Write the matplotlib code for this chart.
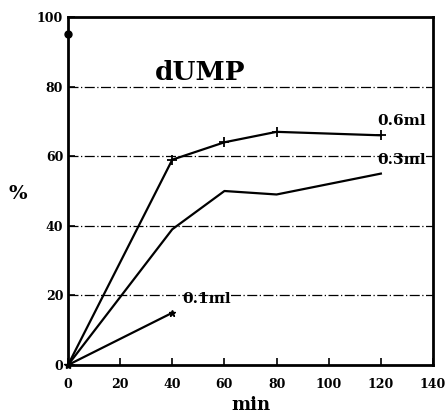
import matplotlib
matplotlib.use('Agg')
import matplotlib.pyplot as plt

matplotlib.rc('font', family='DejaVu Serif', weight='bold', size=10)
matplotlib.rc('axes', labelweight='bold')

t_06 = [0, 40, 60, 80, 120]
y_06 = [0, 59, 64, 67, 66]
t_03 = [0, 40, 60, 80, 120]
y_03 = [0, 39, 50, 49, 55]
t_01 = [0, 40]
y_01 = [0, 15]
dot_t = [0]
dot_y = [95]

fig = plt.figure(figsize=(4.45, 4.16), dpi=100)
ax = fig.add_axes([68/445, 51/416, 365/445, 348/416])

for yg in [20, 40, 60, 80]:
    ax.axhline(yg, color='black', lw=0.9, ls=(0, (8, 2, 1, 2)), zorder=1)

ax.plot(t_06, y_06, color='black', lw=1.6, marker='+', ms=7, mew=1.3)
ax.plot(t_03, y_03, color='black', lw=1.6)
ax.plot(t_01, y_01, color='black', lw=1.6, marker='*', ms=5, markevery=[1])
ax.plot(dot_t, dot_y, 'o', color='black', ms=5, clip_on=False)
ax.plot([0], [0], '*', color='black', ms=6, clip_on=False)

ax.text(118.5, 70, '0.6ml', fontsize=11, va='center', clip_on=False)
ax.text(118.5, 59, '0.3ml', fontsize=11, va='center', clip_on=False)
ax.text(44, 19, '0.1ml', fontsize=11, va='center')
ax.text(33.5, 84, 'dUMP', fontsize=19, va='center')

ax.set_xlim(0, 140)
ax.set_ylim(0, 100)
ax.set_xticks(range(0, 141, 20))
ax.set_yticks(range(0, 101, 20))
ax.tick_params(direction='in', length=5, width=1.2, labelsize=9)
ax.tick_params(axis='x', pad=9)
for s in ax.spines.values():
    s.set_linewidth(2)
ax.set_xlabel('min', fontsize=13, labelpad=4)
ax.set_ylabel('%', fontsize=14, rotation=0, va='center', ha='center')
ax.yaxis.set_label_coords(-0.137, 0.49)

fig.savefig('out.png', dpi=100)
